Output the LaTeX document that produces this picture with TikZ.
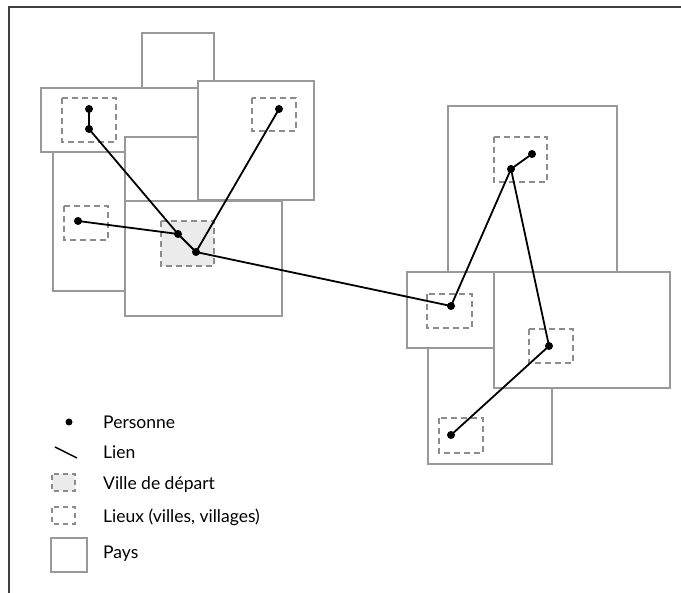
\documentclass[tikz,border=0pt]{standalone}
\usepackage{fontspec}
\setmainfont{Lato}
\begin{document}
\begin{tikzpicture}[x=1pt,y=-1pt,
  pays/.style={draw=black!40,line width=1.3pt,fill=white},
  lieu/.style={draw=black!45,line width=1.6pt,dash pattern=on 6pt off 4pt},
  depart/.style={lieu,fill=black!8},
  lien/.style={line width=1.8pt,black},
  personne/.style={circle,fill=black,inner sep=0pt,minimum size=8pt},
  legendtext/.style={anchor=west,font=\fontsize{17.5}{19}\selectfont,inner sep=0pt},
  cadre/.style={draw=black!75,line width=2pt}]
\useasboundingbox (0,0) rectangle (681,593);
\path[fill=white] (0,0) rectangle (681,593);

% frame
\draw[cadre] (681,7.5) -- (9,7.5) -- (9,593);

% countries, left group (back to front)
\draw[pays] (142,33) rectangle (214,100);
\draw[pays] (53,140) rectangle (140,291);
\draw[pays] (41,88) rectangle (210,152);
\draw[pays] (125,137) rectangle (230,230);
\draw[pays] (198,81) rectangle (314,200);
\draw[pays] (125,201) rectangle (282,316);

% countries, right group
\draw[pays] (448,106) rectangle (617,290);
\draw[pays] (428,330) rectangle (552,464);
\draw[pays] (407,272) rectangle (500,348);
\draw[pays] (494,272) rectangle (670,388);

% places
\draw[lieu] (62,98) rectangle (116,142);
\draw[lieu] (252,98) rectangle (296,131);
\draw[lieu] (64,206) rectangle (108,240);
\draw[depart] (161,221) rectangle (214,266);
\draw[lieu] (494,137) rectangle (547,182);
\draw[lieu] (427,294) rectangle (472,328);
\draw[lieu] (529,329) rectangle (573,363);
\draw[lieu] (439,418) rectangle (483,453);

% persons
\node[personne] (p1) at (89,109) {};
\node[personne] (p2) at (89,129) {};
\node[personne] (p3) at (279,109) {};
\node[personne] (p4) at (78,221) {};
\node[personne] (p5) at (178,234) {};
\node[personne] (p6) at (196,252) {};
\node[personne] (q1) at (451,306) {};
\node[personne] (q2) at (511,169) {};
\node[personne] (q3) at (532,154) {};
\node[personne] (q4) at (549,346) {};
\node[personne] (q5) at (451,435) {};

% links
\draw[lien] (p1.center) -- (p2.center);
\draw[lien] (p2.center) -- (p5.center);
\draw[lien] (p4.center) -- (p5.center);
\draw[lien] (p5.center) -- (p6.center);
\draw[lien] (p3.center) -- (p6.center);
\draw[lien] (p6.center) -- (q1.center);
\draw[lien] (q1.center) -- (q2.center);
\draw[lien] (q2.center) -- (q3.center);
\draw[lien] (q2.center) -- (q4.center);
\draw[lien] (q4.center) -- (q5.center);

% legend
\node[personne,minimum size=7pt] (lp) at (69,422) {};
\node[legendtext] (tp) at (103,422) {Personne};
\coordinate (la) at (55,447);
\coordinate (lb) at (77,458);
\draw[lien,line width=1.5pt] (la) -- (lb);
\node[legendtext] (tl) at (103,452) {Lien};
\draw[depart,line width=1.3pt,dash pattern=on 5pt off 4pt,dash phase=-1pt] (52,474) rectangle (75,491);
\node[legendtext] (tv) at (103,485) {Ville de départ};
\draw[lieu,line width=1.3pt,dash pattern=on 5pt off 4pt,dash phase=-1pt] (52,507) rectangle (75,524);
\node[legendtext] (tlx) at (103,517) {Lieux (villes, villages)};
\draw[pays] (51,538) rectangle (87,572);
\node[legendtext] (tpy) at (103,554) {Pays};
\end{tikzpicture}
\end{document}
